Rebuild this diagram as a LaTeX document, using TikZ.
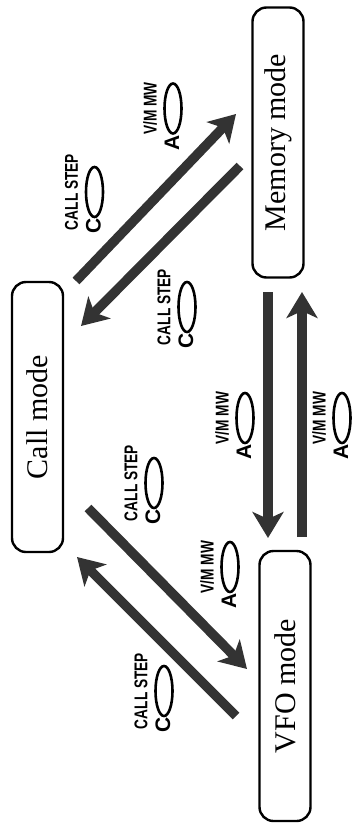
\documentclass[tikz,border=0pt]{standalone}
\usepackage{fontspec}
\setmainfont{Liberation Serif}
\newfontfamily\keyfont[FakeStretch=0.74]{Liberation Sans}
\newfontfamily\letterfont{Liberation Sans}
\usetikzlibrary{arrows.meta,shapes.geometric}

% key label: name, position, key text, letter
\newcommand{\keylabel}[4]{%
 \node[keytitle] (#1) at (#2) {#3};
 \node[keybtn] (#1btn) at ([shift={(23,0)}]#1.center) {};
 \node[keyletter] (#1key) at ([shift={(22,34)}]#1.center) {#4};}

\begin{document}
\begin{tikzpicture}[x=1pt,y=-1pt,
 box/.style={draw,line width=2.4pt,rounded corners=14pt,minimum width=270pt,minimum height=51pt,
  rotate=90,font=\fontsize{30}{36}\selectfont},
 keytitle/.style={rotate=90,inner sep=0pt,font=\keyfont\bfseries\fontsize{18.5}{20}\selectfont},
 keyletter/.style={rotate=90,inner sep=0pt,font=\letterfont\bfseries\fontsize{21}{22}\selectfont},
 keybtn/.style={ellipse,draw,line width=2.6pt,rotate=90,inner sep=0pt,minimum width=50pt,minimum height=17pt},
 arr/.style={draw=black!80,line width=9.5pt,-{Stealth[length=26pt,width=31pt,inset=7pt]}}]
\useasboundingbox (0,0) rectangle (353,830);
\node[box] (mem) at (278,142.5) {Memory mode};
\node[box] (call) at (37.5,417) {Call mode};
\node[box] (vfo) at (285,686) {VFO mode};
% arrow ends
\coordinate (cm1) at (76,281);
\coordinate (cm2) at (236,114);
\coordinate (mc1) at (240,166);
\coordinate (mc2) at (81,326);
\coordinate (mv1) at (268,292);
\coordinate (mv2) at (268,538);
\coordinate (vm1) at (302,537);
\coordinate (vm2) at (302,292);
\coordinate (cv1) at (88,508);
\coordinate (cv2) at (247,669);
\coordinate (vc1) at (236,716);
\coordinate (vc2) at (77,557);
\draw[arr] (cm1) -- (cm2);
\draw[arr] (mc1) -- (mc2);
\draw[arr] (mv1) -- (mv2);
\draw[arr] (vm1) -- (vm2);
\draw[arr] (cv1) -- (cv2);
\draw[arr] (vc1) -- (vc2);
% key labels
\keylabel{kcm}{71.5,192}{CALL STEP}{C}
\keylabel{kcma}{150,108.5}{V/M MW}{A}
\keylabel{kmc}{164,307}{CALL STEP}{C}
\keylabel{kmv}{222,418}{V/M MW}{A}
\keylabel{kvm}{319,418}{V/M MW}{A}
\keylabel{kcv}{131,483}{CALL STEP}{C}
\keylabel{kcva}{207,567}{V/M MW}{A}
\keylabel{kvc}{141,691}{CALL STEP}{C}
\end{tikzpicture}
\end{document}
